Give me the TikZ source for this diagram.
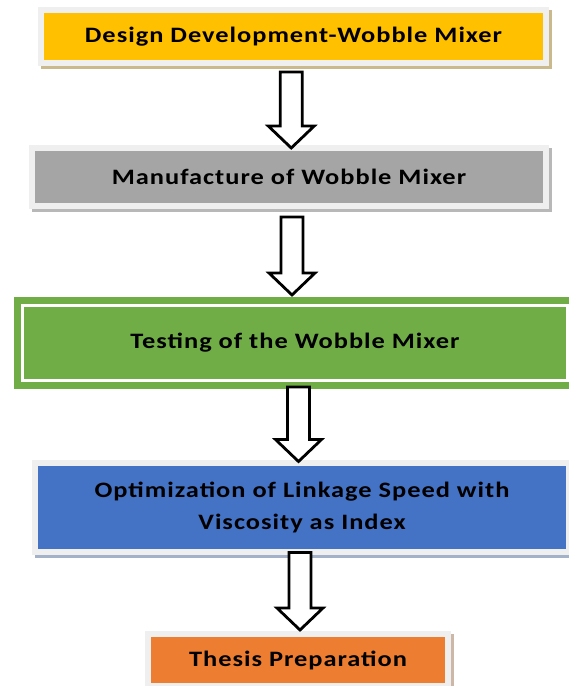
\documentclass[tikz,border=0pt]{standalone}
\usepackage{fontspec}
\setmainfont{Carlito}
\newfontfamily\boxfont{Carlito}[FakeStretch=1.2, LetterSpace=4.5]
\usetikzlibrary{calc,shadows}

\definecolor{boxyellow}{HTML}{FFC000}
\definecolor{boxgray}{HTML}{A5A5A5}
\definecolor{boxgreen}{HTML}{70AD47}
\definecolor{boxblue}{HTML}{4472C4}
\definecolor{boxorange}{HTML}{ED7D31}
\definecolor{framegray}{HTML}{EFEFEF}
\definecolor{shadetan}{HTML}{C9B98C}
\definecolor{shadegray}{HTML}{B8B8B8}
\definecolor{shadeblue}{HTML}{A3B1C9}
\definecolor{shadebrown}{HTML}{CDB8A8}

\tikzset{
  stepbox/.style={rectangle, draw=framegray, line width=6pt, fill=#1, outer sep=0pt,
    inner sep=0pt, align=center, font=\boxfont\bfseries\fontsize{22}{32}\selectfont},
  boxshadow/.style={general shadow={draw=#1, fill=#1, line width=6pt,
    shadow xshift=3pt, shadow yshift=-3pt}},
  flowarr/.style={draw=black, fill=white, line width=2.8pt, line join=miter},
}

% block arrow from box #1 to box #2, #3 = gap below #1, #4 = gap above #2
\newcommand{\flowarrow}[4]{%
  \coordinate (mid) at ($(#1.south)!0.5!(#2.north)$);
  \draw[flowarr] ($(mid |- #1.south)+(-11,#3)$) -- ($(mid |- #2.north)+(-11,-#4-22)$)
    -- ($(mid |- #2.north)+(-23,-#4-22)$) -- ($(mid |- #2.north)+(0,-#4)$)
    -- ($(mid |- #2.north)+(23,-#4-22)$) -- ($(mid |- #2.north)+(11,-#4-22)$)
    -- ($(mid |- #1.south)+(11,#3)$) -- cycle;}

\begin{document}
\begin{tikzpicture}[x=1pt, y=-1pt]
\useasboundingbox (0,0) rectangle (569,686);

% process boxes
\node[stepbox=boxyellow, boxshadow=shadetan, minimum width=505pt, minimum height=53pt] (design) at (293.5,36.5) {Design Development-Wobble Mixer};
\node[stepbox=boxgray, boxshadow=shadegray, minimum width=514pt, minimum height=58pt] (manufacture) at (289,177) {Manufacture of Wobble Mixer};
\node[stepbox=boxgreen, draw=boxgreen, double=white, line width=7pt, double distance=3pt, minimum width=545pt, minimum height=75pt] (testing) at (295,342.5) {Testing of the Wobble Mixer};
\node[stepbox=boxblue, boxshadow=shadeblue, minimum width=534pt, minimum height=89pt] (optimize) at (302,507) {Optimization of Linkage Speed with\\Viscosity as Index};
\node[stepbox=boxorange, boxshadow=shadebrown, minimum width=300pt, minimum height=52pt] (thesis) at (298,660) {Thesis Preparation};

% arrows
\flowarrow{design}{manufacture}{9}{0}
\flowarrow{manufacture}{testing}{11}{10}
\flowarrow{testing}{optimize}{7}{1}
\flowarrow{optimize}{thesis}{1}{4}

\end{tikzpicture}
\end{document}
